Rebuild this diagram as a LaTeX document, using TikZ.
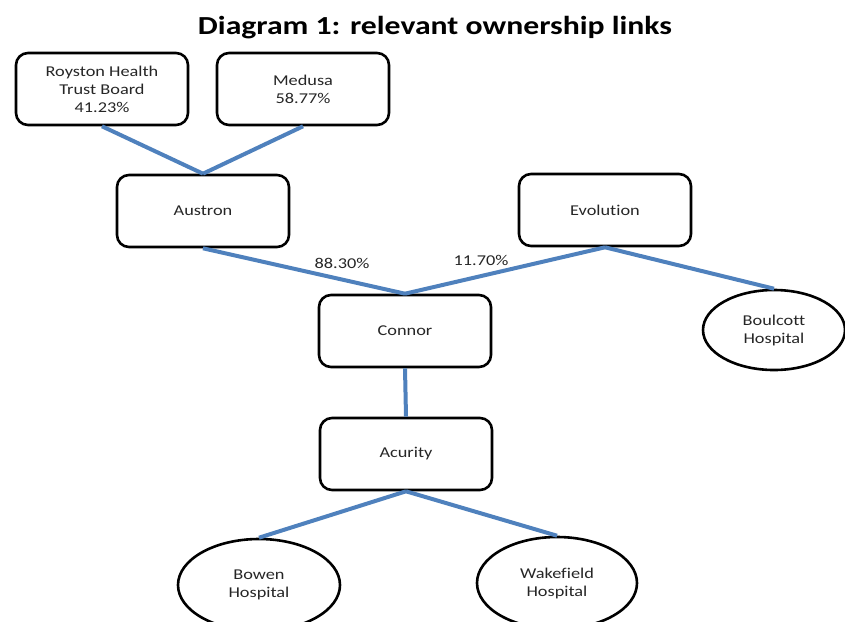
\documentclass[tikz,border=0pt]{standalone}
\usepackage{fontspec}
\setmainfont{Carlito}[FakeStretch=1.22,Ligatures=NoCommon]
\usetikzlibrary{shapes.geometric}
\definecolor{linkblue}{HTML}{4F81BD}
\begin{document}
\begin{tikzpicture}[x=1pt,y=-1pt,
  box/.style={draw=black,line width=2.6pt,rounded corners=12pt,minimum width=172pt,minimum height=72pt,inner sep=0pt,align=center,font=\fontsize{15}{18}\selectfont,text=black!85},
  hosp/.style={draw=black,line width=2.6pt,ellipse,inner sep=0pt,align=center,font=\fontsize{15}{18}\selectfont,text=black!85},
  link/.style={draw=linkblue,line width=4pt},
  pct/.style={font=\fontsize{15}{18}\selectfont,text=black!85}]
\useasboundingbox (0,0) rectangle (845,621);
\clip (0,0) rectangle (845,621);
\node[font=\bfseries\fontsize{26}{30}\selectfont] (title) at (435,28) {Diagram 1: relevant ownership links};
\node[box] (roy) at (102,89) {Royston Health\\Trust Board\\41.23\%};
\node[box] (med) at (303,89) {Medusa\\58.77\%};
\node[box] (aus) at (203,211) {Austron};
\node[box] (evo) at (605,210) {Evolution};
\node[box] (con) at (405,331) {Connor};
\node[box] (acu) at (406,454) {Acurity};
\node[hosp,minimum width=142pt,minimum height=80pt] (bou) at (774,330) {Boulcott\\Hospital};
\node[hosp,minimum width=162pt,minimum height=92pt] (bow) at (259,585) {Bowen\\Hospital};
\node[hosp,minimum width=160pt,minimum height=92pt] (wak) at (557,583) {Wakefield\\Hospital};
\draw[link] (roy.south) -- (aus.north);
\draw[link] (med.south) -- (aus.north);
\draw[link] (aus.south) -- (con.north);
\draw[link] (evo.south) -- (con.north);
\draw[link] (evo.south) -- (bou.north);
\draw[link] (con.south) -- (acu.north);
\draw[link] (acu.south) -- (bow.north);
\draw[link] (acu.south) -- (wak.north);
\node[pct] (p1) at (342,263) {88.30\%};
\node[pct] (p2) at (481,260) {11.70\%};
\end{tikzpicture}
\end{document}
